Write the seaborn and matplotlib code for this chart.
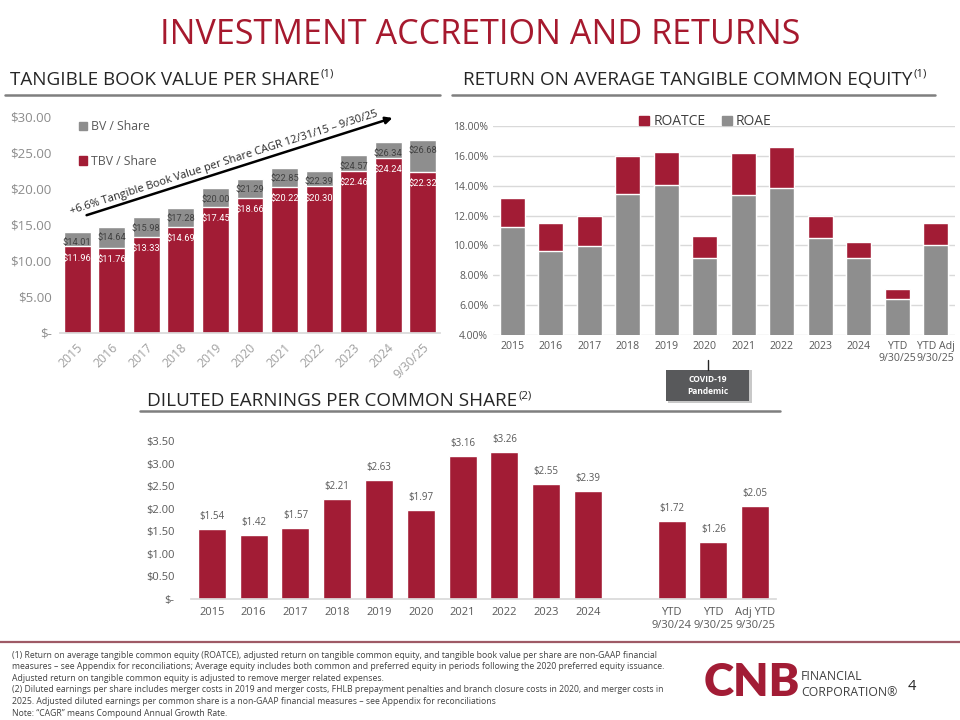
import matplotlib
matplotlib.use('Agg')
import matplotlib.pyplot as plt
import matplotlib.transforms as mtransforms
from matplotlib.patches import Patch, Rectangle
from matplotlib.lines import Line2D
from matplotlib.ticker import FuncFormatter, MultipleLocator
import seaborn as sns

# ---- data -------------------------------------------------------------
tbv_years = ['2015', '2016', '2017', '2018', '2019', '2020', '2021', '2022', '2023', '2024', '9/30/25']
bv_per_share = [14.01, 14.64, 15.98, 17.28, 20.00, 21.29, 22.85, 22.39, 24.57, 26.34, 26.68]
tbv_per_share = [11.96, 11.76, 13.33, 14.69, 17.45, 18.66, 20.22, 20.30, 22.46, 24.24, 22.32]

ret_periods = ['2015', '2016', '2017', '2018', '2019', '2020', '2021', '2022', '2023', '2024',
               'YTD\n9/30/25', 'YTD Adj\n9/30/25']
roatce = [13.21, 11.51, 12.00, 15.99, 16.26, 10.64, 16.22, 16.62, 11.96, 10.22, 7.05, 11.47]
roae = [11.22, 9.66, 9.95, 13.45, 14.03, 9.13, 13.36, 13.85, 10.53, 9.19, 6.41, 10.04]

eps_years = ['2015', '2016', '2017', '2018', '2019', '2020', '2021', '2022', '2023', '2024']
eps_year_values = [1.54, 1.42, 1.57, 2.21, 2.63, 1.97, 3.16, 3.26, 2.55, 2.39]
eps_ytd = ['YTD\n9/30/24', 'YTD\n9/30/25', 'Adj YTD\n9/30/25']
eps_ytd_values = [1.72, 1.26, 2.05]

footnotes = [
    '(1) Return on average tangible common equity (ROATCE), adjusted return on tangible common equity, and tangible book value per share are non-GAAP financial',
    'measures \u2013 see Appendix for reconciliations; Average equity includes both common and preferred equity in periods following the 2020 preferred equity issuance.',
    'Adjusted return on tangible common equity is adjusted to remove merger related expenses.',
    '(2) Diluted earnings per share includes merger costs in 2019 and merger costs, FHLB prepayment penalties and branch closure costs in 2020, and merger costs in',
    '2025. Adjusted diluted earnings per common share is a non-GAAP financial measures \u2013 see Appendix for reconciliations',
    'Note: \u201cCAGR\u201d means Compound Annual Growth Rate.',
]

RED = '#A21C35'
TITLE_RED = '#A6192E'
GRAY = '#8E8E8E'
TXT = '#595959'
W, H = 960, 720
NARROW = ['Roboto', 'Open Sans', 'DejaVu Sans']

sns.set_theme(style='white')
plt.rcParams['font.family'] = ['Open Sans', 'DejaVu Sans']
plt.rcParams['text.parse_math'] = False


def box(x0, y0, x1, y1):
    return [x0 / W, 1 - y1 / H, (x1 - x0) / W, (y1 - y0) / H]


def fx(x):
    return x / W


def fy(y):
    return 1 - y / H


fig = plt.figure(figsize=(9.6, 7.2), dpi=100)
renderer = fig.canvas.get_renderer()


def header(x, y, text, sup, size=13.6):
    t = fig.text(fx(x), fy(y), text, fontsize=size, color='#262626', va='baseline', ha='left')
    bb = t.get_window_extent(renderer=renderer)
    fig.text(bb.x1 / W + 1 / W, fy(y - 8), sup, fontsize=size * 0.6, color='#262626', va='baseline', ha='left')


# ---- titles -----------------------------------------------------------
fig.text(0.5, fy(35), 'INVESTMENT ACCRETION AND RETURNS', ha='center', va='center',
         fontsize=24.6, color=TITLE_RED)
header(10, 85, 'TANGIBLE BOOK VALUE PER SHARE', '(1)')
header(463, 85, 'RETURN ON AVERAGE TANGIBLE COMMON EQUITY', '(1)')
header(147, 406, 'DILUTED EARNINGS PER COMMON SHARE', '(2)')
for x0, x1, y in [(5, 440, 95), (452, 935, 95), (140, 780, 411)]:
    fig.add_artist(Line2D([fx(x0), fx(x1)], [fy(y), fy(y)], color='#7f7f7f', lw=1.8))

# ---- tangible book value per share -------------------------------------
ax1 = fig.add_axes(box(60, 116, 440, 333))
sns.barplot(x=tbv_years, y=bv_per_share, color=GRAY, saturation=1, width=0.78, ax=ax1)
sns.barplot(x=tbv_years, y=tbv_per_share, color=RED, saturation=1, width=0.78, ax=ax1)
ax1.set_xlim(-0.5, 10.5)
ax1.set_ylim(0, 30)
ax1.yaxis.set_major_locator(MultipleLocator(5))
ax1.yaxis.set_major_formatter(FuncFormatter(lambda v, p: '$-' if v == 0 else f'${v:.2f}'))
for i, (bv, tbv) in enumerate(zip(bv_per_share, tbv_per_share)):
    ax1.annotate(f'${bv:.2f}', (i, bv), xytext=(0, -11), textcoords='offset pixels',
                 ha='center', va='center', fontsize=6.7, color='#404040', family=NARROW)
    ax1.annotate(f'${tbv:.2f}', (i, tbv), xytext=(0, -12), textcoords='offset pixels',
                 ha='center', va='center', fontsize=6.7, color='white', family=NARROW)
ax1.tick_params(axis='y', length=0, colors='#8c8c8c', labelsize=9.5, pad=6)
ax1.tick_params(axis='x', length=0, colors='#a0a0a0', labelsize=8.8, pad=9)
shift = mtransforms.ScaledTranslation(4 / 100, 0, fig.dpi_scale_trans)
for lab in ax1.get_xticklabels():
    lab.set_rotation(45)
    lab.set_ha('right')
    lab.set_va('center')
    lab.set_rotation_mode('anchor')
    lab.set_transform(lab.get_transform() + shift)
for s in ['top', 'right', 'left']:
    ax1.spines[s].set_visible(False)
ax1.spines['bottom'].set_color('#d9d9d9')
ax1.set_xlabel('')
ax1.set_ylabel('')
ax1.legend(handles=[Patch(color=GRAY, label='BV / Share'), Patch(color=RED, label='TBV / Share')],
           loc='upper left', bbox_to_anchor=(0.02, 1.03), frameon=False, fontsize=8.8,
           labelspacing=1.75, handlelength=0.7, handleheight=0.7, handletextpad=0.3,
           labelcolor=TXT)
ax1.annotate('', xy=(0.882, 0.995), xytext=(0.063, 0.539), xycoords='axes fraction',
             arrowprops=dict(arrowstyle='-|>', color='black', lw=1.8, mutation_scale=10))
ax1.text(0.43, 0.785, '+6.6% Tangible Book Value per Share CAGR 12/31/15 \u2013 9/30/25',
         transform=ax1.transAxes, rotation=17.7, rotation_mode='anchor', ha='center', va='center',
         fontsize=7.9, color='#262626')

# ---- return on average tangible common equity ----------------------------
ax2 = fig.add_axes(box(493, 126, 955, 335))
sns.barplot(x=ret_periods, y=roatce, color=RED, saturation=1, width=0.66, ax=ax2, zorder=3)
sns.barplot(x=ret_periods, y=roae, color=GRAY, saturation=1, width=0.66, ax=ax2, zorder=3)
ax2.set_xlim(-0.5, 11.5)
ax2.set_ylim(4, 18)
ax2.yaxis.set_major_locator(MultipleLocator(2))
ax2.yaxis.set_major_formatter(FuncFormatter(lambda v, p: f'{v:.2f}%'))
ax2.grid(axis='y', color='#d9d9d9', lw=1, zorder=0)
ax2.set_axisbelow(True)
ax2.tick_params(axis='both', length=0, colors=TXT, labelsize=7.5)
ax2.tick_params(axis='x', labelsize=7.6, pad=4)
for s in ax2.spines.values():
    s.set_visible(False)
ax2.set_xlabel('')
ax2.set_ylabel('')
ax2.legend(handles=[Patch(color=RED, label='ROATCE'), Patch(color=GRAY, label='ROAE')],
           loc='center', bbox_to_anchor=(0.46, 1.02), ncol=2, frameon=False, fontsize=10,
           handlelength=0.7, handleheight=0.7, handletextpad=0.3, columnspacing=1.2,
           labelcolor='#404040')

# COVID-19 call-out
fig.add_artist(Line2D([fx(708), fx(708)], [fy(360), fy(370)], color='#262626', lw=1))
fig.add_artist(Rectangle((fx(668), fy(403)), fx(84), 33 / H, facecolor='#c8c8c8', edgecolor='none'))
fig.add_artist(Rectangle((fx(666), fy(401)), fx(83), 31 / H, facecolor='#58595B', edgecolor='none'))
fig.text(fx(707.5), fy(385.5), 'COVID-19\nPandemic', ha='center', va='center', color='white',
         fontsize=6, fontweight='bold', linespacing=1.3)

# ---- diluted EPS -------------------------------------------------------
eps_order = eps_years + [''] + eps_ytd
ax3 = fig.add_axes(box(191, 441, 776, 599))
sns.barplot(x=eps_years + eps_ytd, y=eps_year_values + eps_ytd_values, order=eps_order,
            color=RED, saturation=1, width=0.67, ax=ax3)
ax3.set_xlim(-0.5, 13.5)
ax3.set_ylim(0, 3.5)
ax3.yaxis.set_major_locator(MultipleLocator(0.5))
ax3.yaxis.set_major_formatter(FuncFormatter(lambda v, p: '$-' if abs(v) < 1e-9 else f'${v:.2f}'))
for lab, val in zip(eps_years + eps_ytd, eps_year_values + eps_ytd_values):
    ax3.annotate(f'${val:.2f}', (eps_order.index(lab), val), xytext=(0, 7), textcoords='offset pixels',
                 ha='center', va='bottom', fontsize=7, color=TXT, annotation_clip=False)
ax3.tick_params(axis='both', length=0, colors=TXT, labelsize=8)
ax3.tick_params(axis='y', pad=12)
ax3.tick_params(axis='x', pad=6)
for s in ['top', 'right', 'left']:
    ax3.spines[s].set_visible(False)
ax3.spines['bottom'].set_color('#d9d9d9')
ax3.set_xlabel('')
ax3.set_ylabel('')

# ---- footer -----------------------------------------------------------
fig.add_artist(Line2D([0, 1], [fy(642), fy(642)], color='#9E5A66', lw=1.6))
for k, line in enumerate(footnotes):
    fig.text(fx(12), fy(655 + k * 11.6), line, fontsize=6.2, color='#404040', va='center', ha='left')
fig.text(fx(704), fy(682), 'CNB', fontsize=33, fontweight='heavy', color=RED, family=['Lato', 'DejaVu Sans'],
         va='center', ha='left')
fig.text(fx(801), fy(676), 'FINANCIAL', fontsize=8.8, color='#404040', va='center', ha='left')
fig.text(fx(801), fy(692), 'CORPORATION\u00ae', fontsize=8.8, color='#404040', va='center', ha='left')
fig.text(fx(912), fy(686), '4', fontsize=10.5, color='#262626', va='center', ha='center')

fig.savefig('out.png', dpi=100)
